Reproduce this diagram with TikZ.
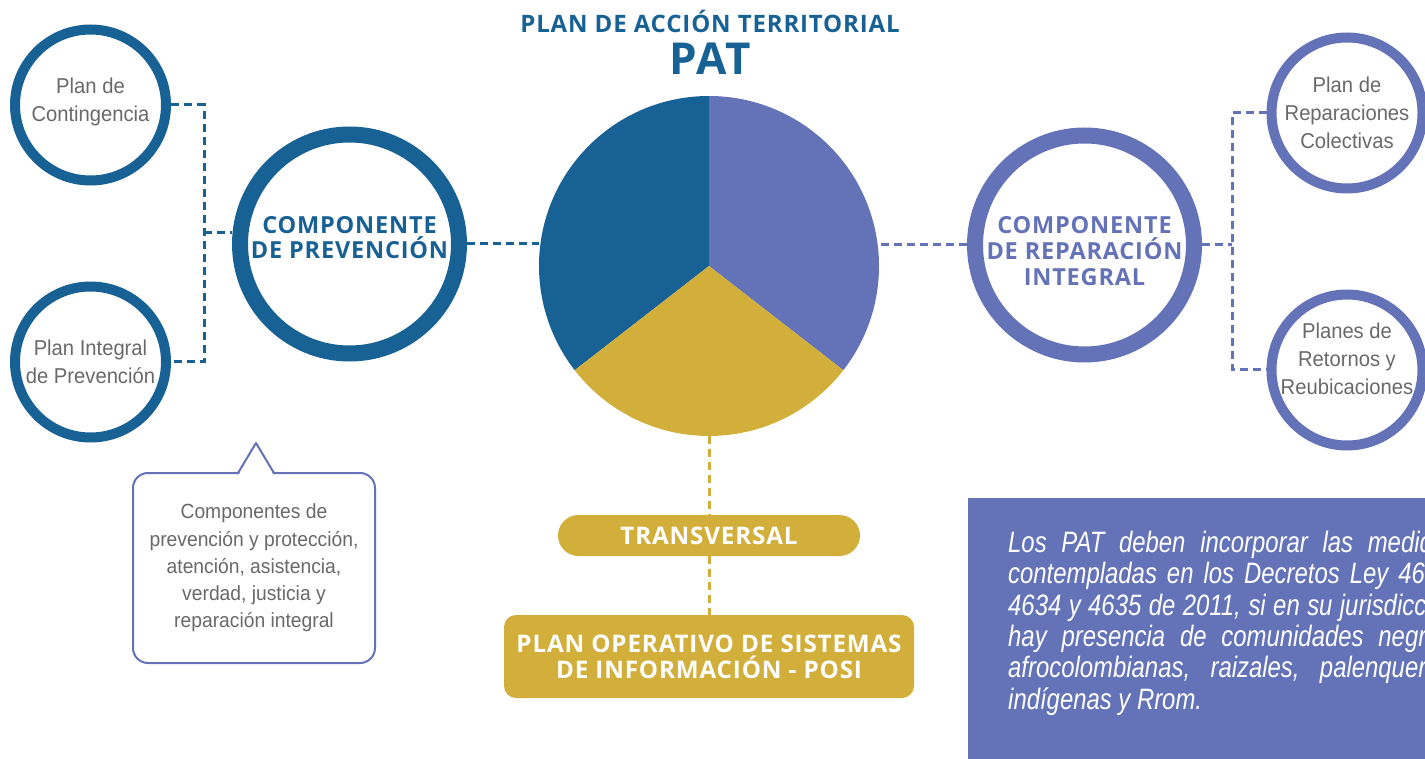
\documentclass[tikz,border=0pt]{standalone}
\usepackage{fontspec}
\setmainfont{Liberation Sans}
\newfontfamily\labfont{Liberation Sans}[FakeStretch=0.94]
\newfontfamily\notefont{Liberation Sans}[FakeStretch=0.81]
\newfontfamily\headfont{Open Sans}[LetterSpace=3.5]
\usetikzlibrary{calc}
\definecolor{blueC}{RGB}{24,97,148}
\definecolor{purpleC}{RGB}{100,115,183}
\definecolor{goldC}{RGB}{210,175,58}
\definecolor{grayT}{RGB}{105,105,105}
\begin{document}
\begin{tikzpicture}[x=1pt,y=1pt,
  smallcirc/.style={circle, inner sep=0pt, minimum size=151pt, line width=10pt, fill=white},
  bigcirc/.style={circle, inner sep=0pt, minimum size=219pt, line width=16pt, fill=white},
  labtext/.style={align=center, text=grayT, font=\labfont\fontsize{21.5}{28}\selectfont},
  headtext/.style={align=center, font=\headfont\bfseries\fontsize{23.5}{25.8}\selectfont},
  goldtext/.style={align=center, text=white, font=\headfont\bfseries\fontsize{24.2}{26}\selectfont},
  dashB/.style={draw=blueC, line width=3pt, dash pattern=on 8pt off 5pt},
  dashP/.style={draw=purpleC, line width=3pt, dash pattern=on 8pt off 5pt},
  dashG/.style={draw=goldC, line width=3pt, dash pattern=on 8pt off 5pt},
  goldbox/.style={fill=goldC, inner sep=0pt}
]
\useasboundingbox (0,0) rectangle (1425,-759);
\clip (0,0) rectangle (1425,-759);

% title
\node[anchor=base, text=blueC, font=\headfont\bfseries\fontsize{24}{25}\selectfont] (title) at (710,-33) {PLAN DE ACCIÓN TERRITORIAL};
\node[anchor=base, text=blueC, font=\headfont\bfseries\fontsize{44}{46}\selectfont] (pat) at (710,-75) {PAT};

% pie
\coordinate (pc) at (709,-266);
\fill[blueC] (pc) -- ++(90:170) arc[start angle=90, end angle=217.8, radius=170] -- cycle;
\fill[purpleC] (pc) -- ++(-37.8:170) arc[start angle=-37.8, end angle=90, radius=170] -- cycle;
\fill[goldC] (pc) -- ++(217.8:170) arc[start angle=217.8, end angle=322.2, radius=170] -- cycle;
\node[circle, inner sep=0pt, minimum size=340pt] (pie) at (pc) {};

% left circles
\node[smallcirc, draw=blueC, label={[labtext, yshift=3pt]center:Plan de\\Contingencia}] (c1) at (90.5,-105) {};
\node[smallcirc, draw=blueC, label={[labtext]center:Plan Integral\\de Prevención}] (c2) at (90.5,-362) {};
\node[bigcirc, draw=blueC, label={[headtext, text=blueC, yshift=6.5pt]center:COMPONENTE\\DE PREVENCIÓN}] (prev) at (349.5,-244) {};

% right circles
\node[bigcirc, draw=purpleC, label={[headtext, text=purpleC, yshift=-6pt]center:COMPONENTE\\DE REPARACIÓN\\INTEGRAL}] (rep) at (1084.5,-245) {};
\node[smallcirc, draw=purpleC, label={[labtext]center:Plan de\\Reparaciones\\Colectivas}] (c3) at (1347,-113) {};
\node[smallcirc, draw=purpleC, label={[labtext, yshift=11pt]center:Planes de\\Retornos y\\Reubicaciones}] (c4) at (1347,-370) {};

% left connectors
\coordinate (brL) at (204,-233);
\draw[dashB] (c1.east) -- (c1.east -| brL) -- (c2.east -| brL) -- (c2.east);
\draw[dashB] (brL) -- (brL -| prev.west);
\draw[dashB] (prev.east) -- (prev.east -| pie.west);

% right connectors
\coordinate (brR) at (1232,-241);
\draw[dashP] (rep.west) -- (rep.west -| pie.east);
\draw[dashP] (rep.east) -- (rep.east -| brR);
\draw[dashP] (c3.west) -- (c3.west -| brR) -- (c4.west -| brR) -- (c4.west);

% gold boxes
\node[goldbox, rounded corners=20.5pt, minimum width=302pt, minimum height=41pt, goldtext] (trans) at (709,-535.5) {TRANSVERSAL};
\node[goldbox, rounded corners=12pt, minimum width=410pt, minimum height=83pt, goldtext] (posi) at (709,-656.5) {PLAN OPERATIVO DE SISTEMAS\\DE INFORMACIÓN - POSI};
\draw[dashG] (pie.south) -- (trans.north);
\draw[dashG] (trans.south) -- (posi.north);

% callout
\node[draw=purpleC, line width=2pt, rounded corners=15pt, fill=white, minimum width=242pt, minimum height=190pt, inner sep=0pt,
      align=center, text=grayT, font=\labfont\fontsize{20.5}{27.2}\selectfont] (callout) at (254,-568)
  {Componentes de\\prevención y protección,\\atención, asistencia,\\verdad, justicia y\\reparación integral};
\coordinate (tip) at (256,-443);
\fill[white] (238,-476) -- (tip) -- (274,-476) -- cycle;
\draw[purpleC, line width=2pt, line join=round] (238,-473) -- (tip) -- (274,-473);

% note box
\node[fill=purpleC, anchor=north west, inner sep=0pt, minimum width=540pt, minimum height=300pt] (notebox) at (968,-498) {};
\node[anchor=north west, inner sep=0pt, align=left, text=white, font=\notefont\itshape\fontsize{29.5}{31.3}\selectfont] (notetext) at (1008,-531)
  {\hbox to 450pt{Los PAT deben incorporar las medidas}\\
   \hbox to 450pt{contempladas en los Decretos Ley 4633,}\\
   \hbox to 450pt{4634 y 4635 de 2011, si en su jurisdicción}\\
   \hbox to 450pt{hay presencia de comunidades negras,}\\
   \hbox to 450pt{afrocolombianas, raizales, palenqueras,}\\
   indígenas y Rrom.};
\end{tikzpicture}
\end{document}
